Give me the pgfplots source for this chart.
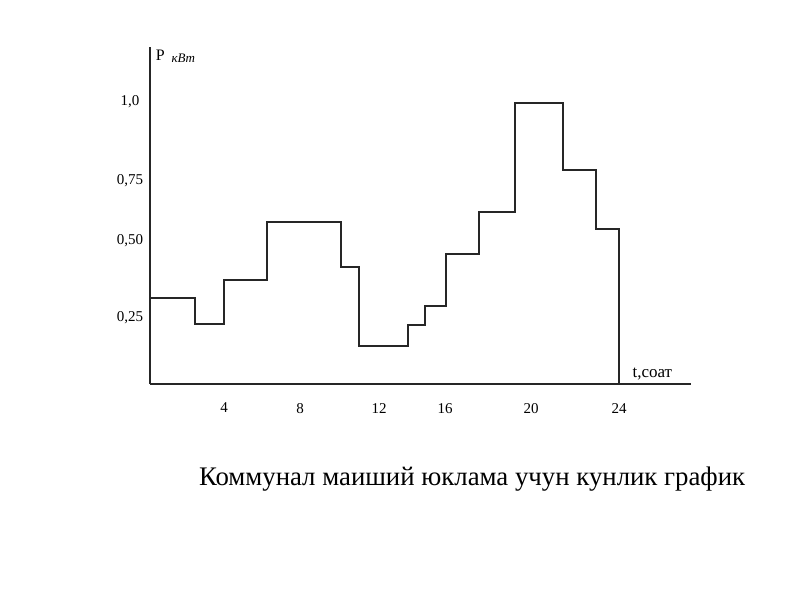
\documentclass[border=0pt]{standalone}
\usepackage{fontspec}
\setmainfont{Liberation Serif}
\usepackage{pgfplots}
\pgfplotsset{compat=1.18}
\begin{document}
\begin{tikzpicture}
\begin{axis}[
  anchor=origin, at={(0pt,0pt)},
  scale only axis,
  width=270.5pt, height=168.5pt,
  xmin=0, xmax=27.68, ymin=0, ymax=1.195,
  axis x line=bottom, axis y line=left,
  axis line style={-, line width=1pt, black!85},
  major tick length=0pt,
  xtick={3.79,7.68,11.72,15.10,19.50,24.0},
  xticklabels={\raisebox{1.5pt}{4},\raisebox{0pt}{8},\raisebox{-1.5pt}{12},\raisebox{-2.5pt}{16},\raisebox{0pt}{20},\raisebox{0pt}{24}},
  ytick={0.234,0.507,0.72,1.0},
  yticklabels={{0,25},{0,50},{0,75},{1,0}},
  xticklabel style={anchor=center, yshift=-12.5pt, font=\fontsize{7.5}{9}\selectfont},
  yticklabel style={anchor=center, xshift=-10pt, font=\fontsize{7.5}{9}\selectfont},
  clip=false,
]
\addplot[const plot, line width=1pt, black!85] coordinates {
  (0,0.304) (2.30,0.213) (3.80,0.369) (5.99,0.573) (9.77,0.415)
  (10.71,0.135) (13.20,0.209) (14.07,0.278) (15.13,0.460) (16.82,0.611)
  (18.69,0.998) (21.15,0.759) (22.81,0.549) (23.99,0)
};
\node[anchor=west, inner sep=0pt, font=\fontsize{8}{9}\selectfont] at (axis cs:0.28,1.167) {P};
\node[anchor=west, inner sep=0pt, font=\itshape\fontsize{6.5}{8}\selectfont] at (axis cs:1.08,1.155) {кВт};
\node[anchor=west, inner sep=0pt, font=\fontsize{8.5}{10}\selectfont] at (axis cs:24.67,0.035) {t,соат};
\node[anchor=center, inner sep=0pt, font=\fontsize{13.4}{16}\selectfont] at (axis cs:16.48,-0.337) {Коммунал маиший юклама учун кунлик график};
\end{axis}
\pgfresetboundingbox
\useasboundingbox (-75pt,-108pt) rectangle (325pt,192pt);
\end{tikzpicture}
\end{document}
